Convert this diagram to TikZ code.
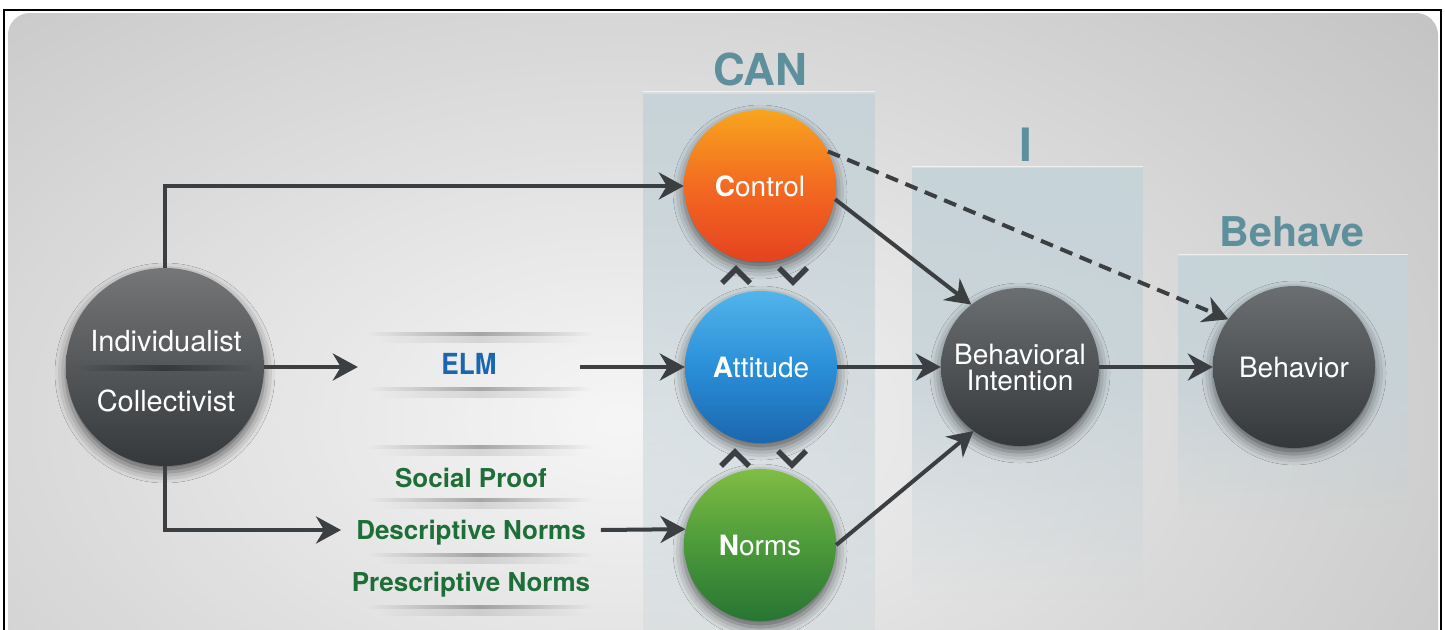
\documentclass[tikz,border=0pt]{standalone}
\usepackage{fontspec}
\setmainfont{TeX Gyre Heros}
\usepackage{graphicx}
\usetikzlibrary{arrows.meta,shadows.blur,fadings}

\definecolor{basegray}{HTML}{C4C4C4}
\definecolor{panelc}{HTML}{C6D3D8}
\definecolor{labelc}{HTML}{5E8F9D}
\definecolor{arrowc}{HTML}{3C3F42}
\definecolor{elmblue}{HTML}{1B66AE}
\definecolor{normgreen}{HTML}{1E6E38}
\definecolor{orTop}{HTML}{F8A51E}
\definecolor{orMid}{HTML}{F36A21}
\definecolor{orBot}{HTML}{E5421F}
\definecolor{blTop}{HTML}{52B4EB}
\definecolor{blMid}{HTML}{2A8FD8}
\definecolor{blBot}{HTML}{1B66AE}
\definecolor{grTop}{HTML}{80BD44}
\definecolor{grMid}{HTML}{4B9A3A}
\definecolor{grBot}{HTML}{287434}
\definecolor{dkTop}{HTML}{6C6F71}
\definecolor{dkBot}{HTML}{35383A}
\definecolor{indTop}{HTML}{747678}

\tikzfading[name=glow, inner color=transparent!0, outer color=transparent!100]
\tikzfading[name=bandfade, left color=transparent!100, right color=transparent!100, middle color=transparent!0]
\tikzfading[name=panelfade, top color=transparent!0, bottom color=transparent!100, middle color=transparent!20]
\tikzfading[name=downfade, top color=transparent!0, bottom color=transparent!100]

\begin{document}
\begin{tikzpicture}[x=1pt,y=-1pt,
  ball/.style={circle, minimum size=#1, inner sep=0pt, text=white, align=center,
    font=\fontsize{28}{26}\selectfont,
    blur shadow={shadow xshift=0pt, shadow yshift=-6pt, shadow blur radius=11pt, shadow opacity=60}},
  orangeball/.style={ball=152pt, top color=orTop, bottom color=orBot, middle color=orMid},
  blueball/.style={ball=152pt, top color=blTop, bottom color=blBot, middle color=blMid},
  greenball/.style={ball=152pt, top color=grTop, bottom color=grBot, middle color=grMid},
  darkball/.style={ball=#1, top color=dkTop, bottom color=dkBot},
  grouplabel/.style={text=labelc, font=\fontsize{44}{44}\selectfont\bfseries, inner sep=0pt},
  balltext/.style={text=white, font=\fontsize{29}{29}\selectfont, inner sep=0pt, text height=21pt, text depth=0pt},
  greentext/.style={text=normgreen, font=\fontsize{26}{26}\selectfont\bfseries, text height=19pt, text depth=0pt, inner ysep=0pt},
  arr/.style={draw=arrowc, line width=4pt, -{Stealth[length=25pt,width=27pt,inset=8pt]}},
  dasharr/.style={arr, dash pattern=on 13pt off 8pt},
  chev/.style={draw=arrowc, line width=5.5pt, line cap=butt, line join=miter},
  band/.style={fill=black, fill opacity=0.30, path fading=bandfade},
  bandsoft/.style={fill=black, fill opacity=0.10, path fading=bandfade}
]
\useasboundingbox (0,0) rectangle (1445,629);
\fill[white] (0,0) rectangle (1445,629);

% background card with a soft light centre
\fill[basegray, rounded corners=22pt] (8,13) rectangle (1438,690);
\begin{scope}
  \clip[rounded corners=22pt] (8,13) rectangle (1438,690);
  \fill[white, fill opacity=0.85, path fading=glow] (620,420) ellipse [x radius=1050, y radius=640];
\end{scope}

% frame
\draw[black, line width=1.6pt] (4,640) -- (4,10) -- (1441,10) -- (1441,640);

% column panels
\fill[panelc, path fading=downfade, fill opacity=0.95] (643,93) rectangle (875,900);
\fill[panelc, path fading=panelfade] (912,168) rectangle (1143,600);
\fill[panelc, path fading=panelfade] (1178,256) rectangle (1408,520);
\draw[white, opacity=0.6, line width=1pt] (643,91) -- (875,91) (912,166) -- (1143,166) (1178,254) -- (1408,254);

% column headings
\node[grouplabel] (lcan) at (760,69) {CAN};
\node[grouplabel, font=\fontsize{46}{46}\selectfont\bfseries] (li) at (1026,145) {I};
\node[grouplabel, font=\fontsize{41}{41}\selectfont\bfseries] (lbeh) at (1292,232) {Behave};

% paper-strip shadows behind the message labels
\foreach \y in {332,387,445,498,553,605}{
  \fill[band] (368,\y) rectangle (592,\y+3.5);
  \fill[bandsoft] (378,\y+3.5) rectangle (582,\y+11);
}

% nodes
\node[darkball=198pt, top color=indTop] (indiv) at (165,367) {};
\fill[black, fill opacity=0.35, path fading=bandfade] (75,365) rectangle (255,371);
\node[balltext] (indA) at (166,341) {Individualist};
\node[balltext] (indB) at (166,401) {Collectivist};

\node[orangeball] (ctrl) at (760,186) {\textbf{C}ontrol};
\node[blueball] (att) at (761,367) {\textbf{A}ttitude};
\node[greenball] (norms) at (760,545) {\textbf{N}orms};
\node[darkball=158pt] (bi) at (1020,367) {Behavioral\\Intention};
\node[darkball=162pt] (behav) at (1294,367) {Behavior};

\node[text=elmblue, font=\fontsize{29}{29}\selectfont\bfseries, minimum width=222pt,
      inner sep=0pt, text height=21pt, text depth=6pt] (elm) at (469,367) {\scalebox{0.9}[1]{ELM}};
\node[greentext] (soc) at (471,478) {Social Proof};
\node[greentext, inner xsep=15pt] (desc) at (471,530) {Descriptive Norms};
\node[greentext] (pres) at (471,582) {Prescriptive Norms};

% two-way chevrons between the CAN factors
\draw[chev] (722,283) -- (736,269) -- (750,283);
\draw[chev] (779,268) -- (793,282) -- (807,268);
\draw[chev] (721,466) -- (735,452) -- (749,466);
\draw[chev] (778,451) -- (792,465) -- (806,451);

% connectors
\draw[arr] (indiv.north) |- (ctrl.west);
\draw[arr] (indiv.east) -- (elm.west);
\draw[arr] (elm.east) -- (att.west);
\draw[arr] (indiv.south) |- (desc.west);
\draw[arr] (desc.east) -- (norms.168.6);
\draw[arr] (ctrl.-10) -- (bi.128);
\draw[arr] (att.east) -- (bi.west);
\draw[arr] (norms.east) -- (bi.234);
\draw[arr] (bi.east) -- (behav.west);
\draw[dasharr] (ctrl.27) -- (behav.144);
\end{tikzpicture}
\end{document}
